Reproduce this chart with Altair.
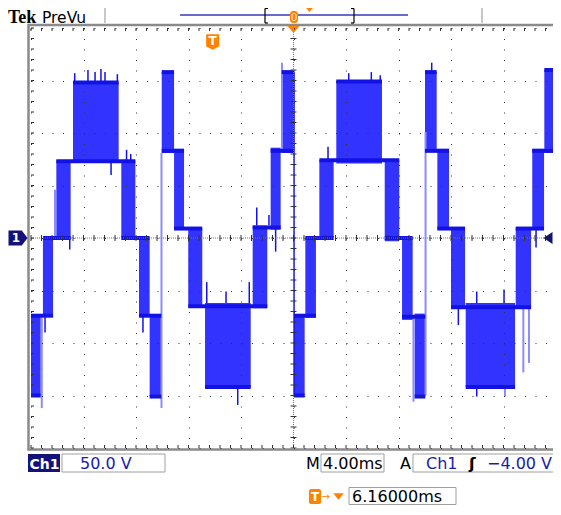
import altair as alt
import pandas as pd

# ---------------- waveform data (time in ms relative to trigger, volts) ----------------
# PWM blocks: signal switching between two levels in [t0, t1]
blk_t0 = [-13.84, -12.93, -11.91, -10.64, -6.96, -5.61, -4.80, -3.88, -2.94, -1.86, -0.58, 3.05, 4.42, 5.26,
          6.20, 7.06, 8.13, 9.42, 13.11, 14.43, 15.39, 16.18, 17.12, 18.16, 19.28, 23.09, 24.35, 25.27]
blk_t1 = [-13.10, -12.16, -10.82, -7.16, -5.89, -4.80, -3.91, -2.94, -2.18, -0.79, 2.90, 4.16, 5.18, 6.20,
          7.01, 7.87, 9.22, 12.90, 14.22, 15.24, 16.20, 17.07, 18.01, 19.23, 23.04, 24.26, 25.25, 26.16]
blk_lo = [-150, -75, 0, 72, 0, -75, -151, 81, 9, -65, -142, -67, 8, 81,
          -150, -76, 0, 71, -3, -78, -151, 82, 8, -67, -142, -67, 9, 81]
blk_hi = [-74, 0, 74, 148, 74, 0, -74, 158, 85, 9, -62, 12, 86, 158,
          -73, 1, 74, 149, 74, 1, -72, 158, 85, 10, -62, 10, 85, 160]

# level plateaus (noisy dark bands)
pl_t0 = [-13.84, -5.61, -12.93, -6.96, -11.91, -10.64, -13.84, -4.80,
         -3.88, 5.26, -3.88, 4.42, -2.94, 3.05, -1.86, -0.58,
         6.20, 14.43, 6.20, 15.39, 7.06, 13.11, 8.13, 9.42,
         16.18, 25.27, 16.18, 24.35, 17.12, 23.09, 18.16, 19.28]
pl_t1 = [-12.16, -3.91, -10.82, -4.80, -5.89, -7.16, -13.10, -3.91,
         -2.94, 6.20, -2.18, 6.20, -0.79, 5.18, 4.16, 2.90,
         7.87, 16.20, 7.01, 16.20, 9.22, 15.24, 14.22, 12.90,
         17.07, 26.16, 18.01, 26.16, 19.23, 25.25, 24.26, 23.04]
pl_v = [-74, -74, 0, 0, 73, 148, -150, -151,
        158, 158, 83, 83, 9, 10, -65, -142,
        -74, -75, -150, -151, 0, 0, 74, 149,
        158, 160, 83, 83, 9, 9, -66, -142]

# spikes / single transitions
sp_t = [-12.77, -10.89, -10.51, -9.50, -8.96, -8.51, -8.20, -7.26, -7.74, -6.56, -6.24, -5.31,
        -0.45, 1.02, 1.91, 2.79, 3.36, 4.29, 4.80, 6.20, 8.79, 10.37, 12.09, 12.77, 16.69,
        18.72, 20.12, 20.12, 22.20, 24.64,
        -13.02, -12.01, -3.90, 5.28, 15.30, 16.22, 22.27, 23.67, 24.10, 26.08]
sp_v0 = [-74, 0, 148, 148, 148, 148, 148, 148, 73, 73, 73, -74,
         -62, -62, -142, -62, 12, 12, 9, 158, 74, 149, 149, 149, 158,
         -67, -62, -142, -62, 9,
         -73, 0, 81, 81, -76, 101, -142, -67, -67, 82]
sp_v1 = [-90, -11, 157, 160, 158, 161, 158, 156, 60, 84, 80, -90,
         -42, -51, -159, -42, 29, 22, -13, -150, 87, 157, 158, 155, 167,
         -83, -51, -151, -49, -9,
         -162, 46, -162, 167, -156, -150, -151, -128, -119, -150]
sp_kind = ["dark"] * 30 + ["light"] * 10

# ---------------- graticule ----------------
x_major = [-13.84, -9.84, -5.84, -1.84, 2.16, 6.16, 10.16, 14.16, 18.16, 22.16, 26.16]
y_major = [-200, -150, -100, -50, 0, 50, 100, 150, 200]
x_minor = [round(-13.84 + 0.8 * k, 2) for k in range(51)]
y_minor = [-200 + 10 * k for k in range(41)]
center_t = [6.16]
trigger_t = [0.0]

SW, H = 525, 420   # graticule size in px
VW = 522           # visible plot width (page is 561 px wide)
OX, OY = 31, 28    # page position of plot origin

BLUE = "#3333ff"
DARK = "#1212e6"
LIGHT = "#8c8cff"
ORANGE = "#ff8200"
NAVY = "#12127a"
NAVYTXT = "#1c1ca8"

xscale = alt.Scale(domain=[-13.84, 26.16], range=[0, SW], nice=False, zero=False)
yscale = alt.Scale(domain=[-200, 200], nice=False, zero=False)
xaxis = alt.Axis(values=x_major, grid=True, gridDash=[1, 9.5], gridColor="#333333", gridWidth=1,
                 labels=False, ticks=False, domain=False, title=None, zindex=1)
yaxis = alt.Axis(values=y_major, grid=True, gridDash=[1, 9.5], gridColor="#333333", gridWidth=1,
                 labels=False, ticks=False, domain=False, title=None, zindex=1)


def X(f):
    return alt.X(f, type="quantitative", scale=xscale, axis=xaxis)


def Y(f):
    return alt.Y(f, type="quantitative", scale=yscale, axis=yaxis)


one = pd.DataFrame({"d": [0]})


def txt(s, x, y, size, color="black", weight="normal", font="DejaVu Sans", align="left", baseline="alphabetic"):
    return alt.Chart(one).mark_text(text=s, font=font, fontSize=size, fontWeight=weight, color=color,
                                    align=align, baseline=baseline).encode(
        x=alt.value(x - OX), y=alt.value(y - OY))


def seg(x1, y1, x2, y2, color, w=1):
    return alt.Chart(one).mark_rule(color=color, strokeWidth=w).encode(
        x=alt.value(x1 - OX), x2=alt.value(x2 - OX), y=alt.value(y1 - OY), y2=alt.value(y2 - OY))


def box(x1, y1, x2, y2, fill="white", stroke="", sw=1, r=0, fo=1):
    kw = dict(fill=fill, fillOpacity=fo, cornerRadius=r)
    if stroke:
        kw.update(stroke=stroke, strokeWidth=sw)
    return alt.Chart(one).mark_rect(**kw).encode(
        x=alt.value(x1 - OX), x2=alt.value(x2 - OX), y=alt.value(y1 - OY), y2=alt.value(y2 - OY))


def sym(shape, x, y, size, color):
    return alt.Chart(one).mark_point(shape=shape, filled=True, color=color, size=size, opacity=1,
                                     strokeWidth=0).encode(x=alt.value(x - OX), y=alt.value(y - OY))


blocks = pd.DataFrame({"t0": blk_t0, "t1": blk_t1, "lo": blk_lo, "hi": blk_hi})
plateaus = pd.DataFrame({"t0": pl_t0, "t1": pl_t1, "v": pl_v})
spikes = pd.DataFrame({"t": sp_t, "v0": sp_v0, "v1": sp_v1, "kind": sp_kind})

layers = []
# waveform
layers.append(alt.Chart(blocks).mark_rect(color=BLUE).encode(x=X("t0"), x2="t1", y=Y("hi"), y2="lo"))
layers.append(alt.Chart(spikes).transform_filter(alt.datum.kind == "light").mark_rule(
    color=LIGHT, strokeWidth=2).encode(x=X("t"), y=Y("v0"), y2="v1"))
layers.append(alt.Chart(plateaus).mark_rule(color=DARK, strokeWidth=4).encode(x=X("t0"), x2="t1", y=Y("v")))
layers.append(alt.Chart(spikes).transform_filter(alt.datum.kind == "dark").mark_rule(
    color=DARK, strokeWidth=1.5).encode(x=X("t"), y=Y("v0"), y2="v1"))

# center cross-hair and ticks
layers.append(alt.Chart(pd.DataFrame({"t": center_t})).mark_rule(color="#777777", strokeDash=[1, 1]).encode(x=X("t")))
layers.append(alt.Chart(pd.DataFrame({"v": [0]})).mark_rule(color="#777777", strokeDash=[1, 1]).encode(
    y=Y("v"), x=alt.value(0), x2=alt.value(SW)))
layers.append(alt.Chart(pd.DataFrame({"v": y_minor})).mark_rule(color="#333333").encode(
    y=Y("v"), x=alt.value(SW / 2 - 3), x2=alt.value(SW / 2 + 3)))
layers.append(alt.Chart(pd.DataFrame({"t": x_minor})).mark_rule(color="#333333").encode(
    x=X("t"), y=alt.value(H / 2 - 3), y2=alt.value(H / 2 + 3)))
# edge ticks
layers.append(alt.Chart(pd.DataFrame({"t": x_minor})).mark_rule(color="#333333").encode(
    x=X("t"), y=alt.value(0), y2=alt.value(3)))
layers.append(alt.Chart(pd.DataFrame({"t": x_minor})).mark_rule(color="#333333").encode(
    x=X("t"), y=alt.value(H - 3), y2=alt.value(H)))
layers.append(alt.Chart(pd.DataFrame({"v": y_minor})).mark_rule(color="#333333").encode(
    y=Y("v"), x=alt.value(0), x2=alt.value(3)))

# frame
layers.append(box(28.5, 25, 557.5, 449.5, fill="white", stroke="#8a8a8a", sw=2.5, fo=0))

# trigger marker "T" at t = 0
layers.append(alt.Chart(pd.DataFrame({"t": trigger_t})).mark_point(
    shape="M -1 -1.2 L 1 -1.2 L 1 0.7 L 0 1.2 L -1 0.7 Z", filled=True, color=ORANGE, size=169,
    opacity=1, strokeWidth=0).encode(x=X("t"), y=alt.value(42 - OY)))
layers.append(alt.Chart(pd.DataFrame({"t": trigger_t})).mark_text(
    text="T", color="white", fontWeight="bold", fontSize=12, font="DejaVu Sans", baseline="middle").encode(
    x=X("t"), y=alt.value(41 - OY)))
# expansion point triangle at centre
layers.append(alt.Chart(pd.DataFrame({"t": center_t})).mark_point(
    shape="M -1 -0.6 L 1 -0.6 L 0 0.6 Z", filled=True, color=ORANGE, size=144, opacity=1,
    strokeWidth=0).encode(x=X("t"), y=alt.value(29.5 - OY)))

# channel-1 ground marker and right-side marker
layers.append(alt.Chart(pd.DataFrame({"v": [0]})).mark_point(
    shape="M -1 -0.8 L 0.4 -0.8 L 1 0 L 0.4 0.8 L -1 0.8 Z", filled=True, color=NAVY, size=361,
    opacity=1, strokeWidth=0).encode(x=alt.value(18 - OX), y=Y("v")))
layers.append(alt.Chart(pd.DataFrame({"v": [0]})).mark_text(
    text="1", color="white", fontWeight="bold", fontSize=12, font="DejaVu Sans", baseline="middle").encode(
    x=alt.value(16 - OX), y=Y("v")))
layers.append(alt.Chart(pd.DataFrame({"v": [0]})).mark_point(
    shape="M 0.75 -1 L 0.75 1 L -0.75 0 Z", filled=True, color=NAVY, size=144, opacity=1,
    strokeWidth=0).encode(x=alt.value(548 - OX), y=Y("v")))

# ---------------- header ----------------
layers.append(txt("Tek", 8, 22.5, 18, weight="bold", font="Liberation Serif"))
layers.append(txt("PreVu", 42, 22.5, 15.5))
layers.append(seg(105, 0, 105, 23, "#c8c8c8", 2))
layers.append(seg(482, 0, 482, 23, "#c8c8c8", 2))
layers.append(seg(180, 15, 408, 15, "#6b6bcf", 2))
layers.append(seg(265, 8.5, 265, 23, "black", 1.2))
layers.append(seg(265, 8.5, 268, 8.5, "black", 1.2))
layers.append(seg(265, 23, 268, 23, "black", 1.2))
layers.append(seg(354, 8.5, 354, 23, "black", 1.2))
layers.append(seg(351, 8.5, 354, 8.5, "black", 1.2))
layers.append(seg(351, 23, 354, 23, "black", 1.2))
layers.append(box(290, 11, 298, 23, fill=ORANGE, r=3))
layers.append(box(292, 13.5, 296, 20.5, fill="white", stroke="white", sw=1, r=1.5, fo=0))
layers.append(sym("M -1 -0.6 L 1 -0.6 L 0 0.6 Z", 309.5, 10, 49, ORANGE))

# ---------------- footer ----------------
layers.append(box(28, 454, 60, 472, fill=NAVY))
layers.append(txt("Ch1", 29.5, 469, 14, color="white", weight="bold"))
layers.append(box(62, 454, 165, 472, fill="white", stroke="#a0a0a0"))
layers.append(txt("50.0 V", 80, 469, 16, color=NAVYTXT))
layers.append(txt("M", 306, 469, 16))
layers.append(box(321, 454, 384, 472, fill="white", stroke="#a0a0a0"))
layers.append(txt("4.00ms", 323, 469, 16))
layers.append(txt("A", 400, 469, 16))
layers.append(box(413, 454, 560, 472, fill="white", stroke="#a0a0a0"))
layers.append(txt("Ch1", 426, 469, 16, color=NAVYTXT))
layers.append(txt("ʃ", 469, 469, 16, weight="bold"))
layers.append(txt("\u22124.00 V", 487, 469, 16, color=NAVYTXT))

layers.append(box(309, 489, 321, 504, fill=ORANGE, r=2))
layers.append(txt("T", 315, 501, 12, color="white", weight="bold", align="center"))
layers.append(txt("\u2192", 321.5, 500, 10, color=ORANGE))
layers.append(sym("M -1 -0.6 L 1 -0.6 L 0 0.6 Z", 338.5, 496.5, 110, ORANGE))
layers.append(box(349, 487.5, 456, 504.5, fill="white", stroke="#a0a0a0"))
layers.append(txt("6.16000ms", 352, 502, 16))

chart = alt.layer(*layers).properties(
    width=VW, height=H,
    padding={"left": 23, "top": 20, "right": 0, "bottom": 58},
    autosize=alt.AutoSizeParams(type="none"),
    background="white",
).configure_view(stroke=None)

chart.save("out.html", embed_options={"renderer": "svg", "actions": False})
